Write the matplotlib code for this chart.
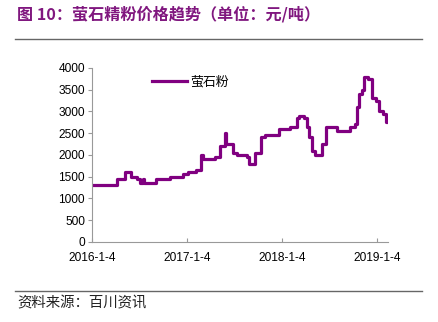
import matplotlib
matplotlib.use("Agg")
import matplotlib.pyplot as plt
import pandas as pd

plt.rcParams["font.family"] = ["Liberation Sans", "Noto Sans CJK SC", "DejaVu Sans"]

# step points of the series (date where a new price level starts)
dates = [
    "2016-01-04", "2016-04-08", "2016-05-10", "2016-06-04", "2016-06-24", "2016-07-06",
    "2016-07-18", "2016-07-24", "2016-09-08", "2016-10-30", "2016-12-20", "2017-01-08",
    "2017-02-09", "2017-02-26", "2017-03-06", "2017-04-21", "2017-05-10", "2017-05-29",
    "2017-06-04", "2017-06-30", "2017-07-13", "2017-08-21", "2017-08-31", "2017-09-22",
    "2017-10-17", "2017-10-30", "2017-12-24", "2018-02-03", "2018-03-01", "2018-03-10",
    "2018-03-29", "2018-04-10", "2018-04-19", "2018-04-29", "2018-05-10", "2018-06-05",
    "2018-06-24", "2018-08-02", "2018-09-24", "2018-10-11", "2018-10-19", "2018-10-28",
    "2018-11-07", "2018-11-16", "2018-12-01", "2018-12-18", "2019-01-02", "2019-01-11",
    "2019-01-27", "2019-02-09", "2019-02-12",
]
prices = [
    1300, 1450, 1600, 1500, 1450, 1350,
    1450, 1350, 1450, 1480, 1550, 1600,
    1650, 2000, 1900, 1950, 2200, 2500,
    2250, 2050, 2000, 1950, 1800, 2050,
    2400, 2450, 2600, 2650, 2850, 2900,
    2850, 2650, 2400, 2100, 2000, 2250,
    2650, 2550, 2650, 2700, 3100, 3400,
    3500, 3800, 3750, 3300, 3250, 3000,
    2950, 2750, 2750,
]
tick_labels = ["2016-1-4", "2017-1-4", "2018-1-4", "2019-1-4"]
tick_dates = ["2016-01-04", "2017-01-04", "2018-01-04", "2019-01-04"]
series_name = "萤石粉"

df = pd.DataFrame({"date": pd.to_datetime(dates), "price": prices})

fig = plt.figure(figsize=(4.38, 3.22), dpi=100)
ax = fig.add_axes([0.210, 0.249, 0.676, 0.540])

ax.step(df["date"], df["price"], where="post", color="#800080", linewidth=2.3, label=series_name)

ax.set_xlim(pd.Timestamp("2016-01-04"), pd.Timestamp("2019-02-16"))
ax.set_ylim(0, 4000)
ax.set_yticks(range(0, 4001, 500))
ax.set_xticks(pd.to_datetime(tick_dates))
ax.set_xticklabels(tick_labels)
ax.tick_params(axis="x", direction="in", length=3, color="#999999", labelsize=8.6, pad=7)
ax.tick_params(axis="y", direction="out", length=3, color="#999999", labelsize=8.6, pad=2)

for side in ["top", "right"]:
    ax.spines[side].set_visible(False)
for side in ["left", "bottom"]:
    ax.spines[side].set_color("#999999")
    ax.spines[side].set_linewidth(0.8)

leg = ax.legend(loc="upper left", bbox_to_anchor=(0.165, 1.025), frameon=False,
                handlelength=2.7, handletextpad=0.25,
                prop={"family": ["Noto Sans CJK SC"], "size": 9.3})

# title and source, with rules
fig.text(0.039, 0.955, "图 10：萤石精粉价格趋势（单位：元/吨）", color="#80177F",
         fontsize=11.6, fontweight="bold", va="center", ha="left",
         family=["Noto Sans CJK SC", "DejaVu Sans"])
fig.add_artist(plt.Line2D([0.034, 0.964], [0.879, 0.879], color="#666666", linewidth=1.0))
fig.add_artist(plt.Line2D([0.034, 0.964], [0.096, 0.096], color="#666666", linewidth=1.0))
fig.text(0.039, 0.058, "资料来源：百川资讯", color="#222222", fontsize=10.4,
         va="center", ha="left", family=["Noto Sans CJK SC", "DejaVu Sans"])

fig.savefig("out.png", dpi=100)
